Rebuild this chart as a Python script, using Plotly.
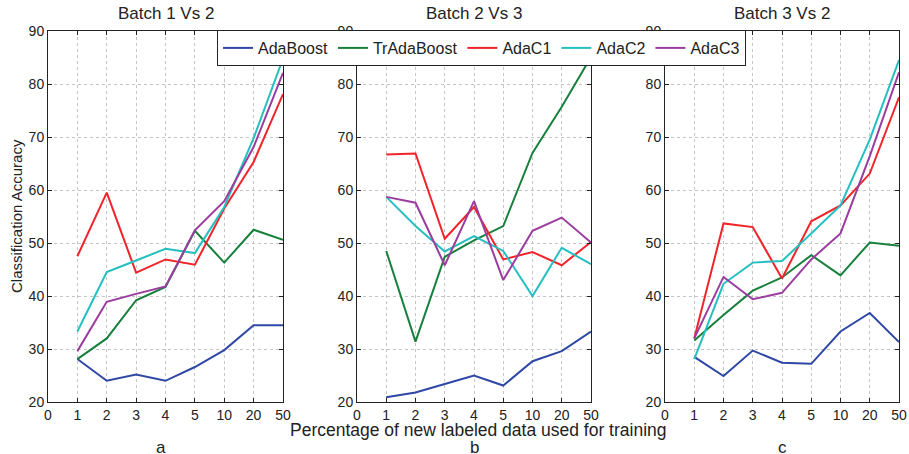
import plotly.graph_objects as go

tick_labels = ["0", "1", "2", "3", "4", "5", "10", "20", "50"]
percent_labels = ["1", "2", "3", "4", "5", "10", "20", "50"]
series_names = ["AdaBoost", "TrAdaBoost", "AdaC1", "AdaC2", "AdaC3"]
colors = ["#2f47a5", "#17803c", "#f0242a", "#25bfc0", "#9b3c9f"]

panel_titles = ["Batch 1 Vs 2", "Batch 2 Vs 3", "Batch 3 Vs 2"]
panel_letters = ["a", "b", "c"]

# Panel a: Batch 1 Vs 2
a_adaboost = [28.1, 24.0, 25.2, 24.0, 26.6, 29.8, 34.5, 34.5]
a_tradaboost = [28.1, 32.0, 39.2, 41.7, 52.3, 46.3, 52.5, 50.6]
a_adac1 = [47.5, 59.5, 44.4, 46.9, 45.9, 56.5, 65.3, 78.1]
a_adac2 = [33.3, 44.5, 46.7, 48.9, 48.1, 56.8, 69.8, 84.8]
a_adac3 = [29.6, 38.9, 40.4, 41.8, 52.4, 57.9, 68.1, 82.1]

# Panel b: Batch 2 Vs 3
b_adaboost = [20.9, 21.8, 23.4, 25.0, 23.1, 27.7, 29.6, 33.3]
b_tradaboost = [48.5, 31.4, 47.4, 50.5, 53.2, 67.0, 75.7, 85.1]
b_adac1 = [66.7, 66.9, 50.8, 56.8, 46.9, 48.3, 45.8, 50.2]
b_adac2 = [58.7, 53.2, 48.4, 51.3, 48.5, 40.0, 49.1, 46.0]
b_adac3 = [58.7, 57.6, 45.8, 57.9, 43.0, 52.3, 54.8, 50.1]

# Panel c: Batch 3 Vs 2
c_adaboost = [28.5, 24.9, 29.7, 27.4, 27.2, 33.3, 36.8, 31.3]
c_tradaboost = [31.6, 36.4, 41.0, 43.5, 47.7, 43.9, 50.1, 49.5]
c_adac1 = [32.0, 53.7, 53.0, 43.3, 54.1, 57.1, 63.1, 77.5]
c_adac2 = [28.1, 42.3, 46.3, 46.6, 51.8, 57.1, 69.5, 84.5]
c_adac3 = [32.0, 43.6, 39.4, 40.6, 46.9, 51.8, 66.4, 82.2]

panels = [
    [a_adaboost, a_tradaboost, a_adac1, a_adac2, a_adac3],
    [b_adaboost, b_tradaboost, b_adac1, b_adac2, b_adac3],
    [c_adaboost, c_tradaboost, c_adac1, c_adac2, c_adac3],
]

W, H = 909, 454
x_domains = [(48 / W, 283 / W), (357 / W, 591 / W), (665 / W, 899 / W)]
y_domain = (1 - 402 / H, 1 - 31 / H)

FONT = "Liberation Sans, Arial, Helvetica, sans-serif"
x_pos = [tick_labels.index(p) for p in percent_labels]

fig = go.Figure()
for pi, panel in enumerate(panels):
    suffix = "" if pi == 0 else str(pi + 1)
    for si, vals in enumerate(panel):
        fig.add_trace(go.Scatter(
            x=x_pos, y=vals, mode="lines",
            name=series_names[si],
            line=dict(color=colors[si], width=2),
            xaxis="x" + suffix, yaxis="y" + suffix,
            showlegend=(pi == 0),
        ))

axis_common = dict(
    showline=True, linecolor="#222", linewidth=1, mirror="ticks",
    ticks="inside", ticklen=4, tickcolor="#222",
    showgrid=True, gridcolor="#c4c4c4", griddash="dot", gridwidth=1,
    zeroline=False, automargin=False,
    tickfont=dict(family=FONT, size=14, color="#222"),
)

layout = dict(
    width=W, height=H,
    margin=dict(l=0, r=0, t=0, b=0),
    plot_bgcolor="white", paper_bgcolor="white",
    showlegend=True,
    legend=dict(
        orientation="h", x=217 / W, y=1 - 30 / H, xanchor="left", yanchor="top",
        bgcolor="white", bordercolor="#222", borderwidth=1,
        font=dict(family=FONT, size=16, color="#222"),
        itemwidth=30, tracegroupgap=0,
    ),
)
for pi in range(3):
    suffix = "" if pi == 0 else str(pi + 1)
    layout["xaxis" + suffix] = dict(
        axis_common, domain=list(x_domains[pi]), range=[0, 8],
        tickmode="array", tickvals=list(range(len(tick_labels))), ticktext=tick_labels,
        anchor="y" + suffix,
    )
    layout["yaxis" + suffix] = dict(
        axis_common, domain=list(y_domain), range=[20, 90],
        tickmode="array", tickvals=[20, 30, 40, 50, 60, 70, 80, 90],
        anchor="x" + suffix,
    )
fig.update_layout(**layout)

annotations = []
for pi in range(3):
    cx = (x_domains[pi][0] + x_domains[pi][1]) / 2
    annotations.append(dict(
        text=panel_titles[pi], x=cx, y=1 - 13 / H, xref="paper", yref="paper",
        xanchor="center", yanchor="middle", showarrow=False,
        font=dict(family=FONT, size=17, color="#222"),
    ))
    annotations.append(dict(
        text=panel_letters[pi], x=cx - (5 / W if pi == 0 else 0), y=1 - 447 / H,
        xref="paper", yref="paper",
        xanchor="center", yanchor="middle", showarrow=False,
        font=dict(family=FONT, size=17, color="#222"),
    ))
annotations.append(dict(
    text="Percentage of new labeled data used for training",
    x=478 / W, y=1 - 430 / H, xref="paper", yref="paper",
    xanchor="center", yanchor="middle", showarrow=False,
    font=dict(family=FONT, size=17.5, color="#222"),
))
annotations.append(dict(
    text="Classification Accuracy", textangle=-90,
    x=17 / W, y=1 - 216 / H, xref="paper", yref="paper",
    xanchor="center", yanchor="middle", showarrow=False,
    font=dict(family=FONT, size=15, color="#222"),
))
fig.update_layout(annotations=annotations)

fig.write_html("out.html")
